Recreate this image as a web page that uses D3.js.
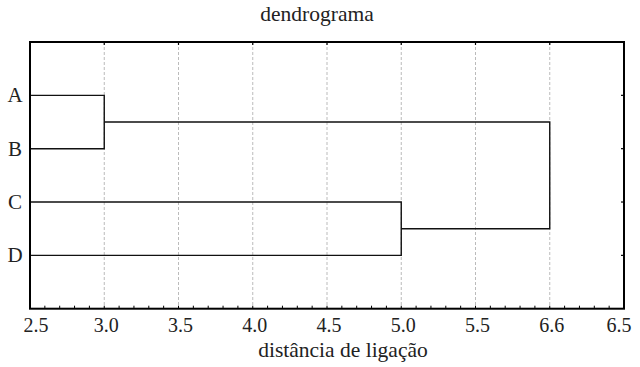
<!DOCTYPE html>
<html><head><meta charset="utf-8">
<script src="https://cdn.jsdelivr.net/npm/d3@7"></script>
<style>body{margin:0;background:#fff}svg{display:block}</style>
</head><body><svg id="c" width="640" height="367"></svg>
<script>
const title = "dendrograma";
const xLabel = "distância de ligação";
const leaves = ["A","B","C","D"];
// merges: [left child, right child, distance]
const merges = [
  ["A","B",3.0],
  ["C","D",5.0],
  ["AB","CD",6.0]
];
const tickValues = [2.5,3.0,3.5,4.0,4.5,5.0,5.5,6.0,6.5];
const tickLabels = ["2.5","3.0","3.5","4.0","4.5","5.0","5.5","6.6","6.5"];

const FONT = "'Liberation Serif', 'Times New Roman', Times, serif";
const svg = d3.select("#c");
const L=30, R=624, T=42, B=308.7;
const x = d3.scaleLinear().domain([2.5,6.5]).range([L,R]);
const y = d3.scaleLinear().domain([0,5]).range([T,B]);

// grid
svg.append("g").selectAll("line").data(tickValues.slice(1,-1)).join("line")
  .attr("x1",d=>x(d)).attr("x2",d=>x(d)).attr("y1",T).attr("y2",B)
  .attr("stroke","#bbb").attr("stroke-width",1).attr("stroke-dasharray","3,2");

// minor ticks bottom
const minor = d3.range(25,66).map(v=>v/10);
svg.append("g").selectAll("line").data(minor).join("line")
  .attr("x1",d=>x(d)).attr("x2",d=>x(d)).attr("y1",B).attr("y2",B-3)
  .attr("stroke","#000").attr("stroke-width",1);
// top major ticks
svg.append("g").selectAll("line").data(tickValues).join("line")
  .attr("x1",d=>x(d)).attr("x2",d=>x(d)).attr("y1",T).attr("y2",T+3)
  .attr("stroke","#000").attr("stroke-width",1.2);

// leaf positions
const pos = {};
leaves.forEach((l,i)=>{pos[l]={x:x(2.5),y:y(i+1)};});

const g = svg.append("g").attr("fill","none").attr("stroke","#111").attr("stroke-width",1.4);
merges.forEach(([a,b,d])=>{
  const pa=pos[a], pb=pos[b], xm=x(d);
  g.append("path").attr("d",`M${pa.x},${pa.y}H${xm}V${pb.y}H${pb.x}`);
  pos[a+b]={x:xm,y:(pa.y+pb.y)/2};
});

// right axis ticks at categories
svg.append("g").selectAll("line").data(leaves).join("line")
  .attr("x1",R).attr("x2",R-3).attr("y1",(d,i)=>y(i+1)).attr("y2",(d,i)=>y(i+1))
  .attr("stroke","#000").attr("stroke-width",1.2);

// frame
svg.append("rect").attr("x",L).attr("y",T).attr("width",R-L).attr("height",B-T)
  .attr("fill","none").attr("stroke","#000").attr("stroke-width",2);

// labels
const lab = svg.append("g").attr("font-family",FONT).attr("fill","#222");
lab.append("g").selectAll("text").data(leaves).join("text")
  .attr("x",15).attr("y",(d,i)=>y(i+1)+7).attr("text-anchor","middle")
  .attr("font-size",21).text(d=>d);
lab.append("g").selectAll("text").data(tickValues).join("text")
  .attr("x",(d,i)=>x(d)+(i===0?6:i===tickValues.length-1?-5:2)).attr("y",332).attr("text-anchor","middle")
  .attr("font-size",20).text((d,i)=>tickLabels[i]);
lab.append("text").attr("x",317).attr("y",21).attr("text-anchor","middle").attr("font-size",21.5).text(title);
lab.append("text").attr("x",343).attr("y",357).attr("text-anchor","middle").attr("font-size",21.5).text(xLabel);
</script></body></html>
